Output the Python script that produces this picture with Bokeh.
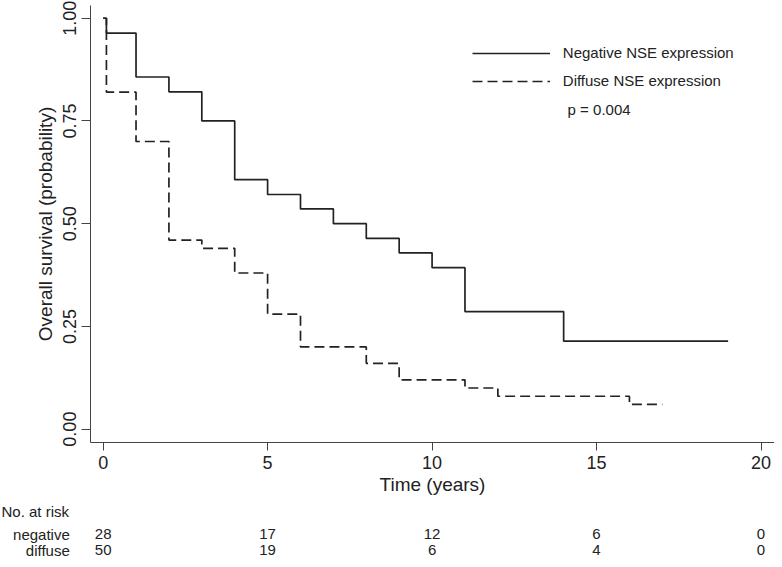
from bokeh.plotting import figure
from bokeh.layouts import column
from bokeh.models import (Range1d, FixedTicker, PrintfTickFormatter, Legend, LegendItem,
                          Label, ColumnDataSource)
from bokeh.core.properties import value
from bokeh.embed import file_html
from bokeh.resources import INLINE

# ---- data ----
neg_time = [0, 0.1, 1, 2, 3, 4, 5, 6, 7, 8, 9, 10, 11, 14, 19]
neg_surv = [1.0, 0.964, 0.857, 0.821, 0.75, 0.607, 0.571, 0.536, 0.50, 0.464, 0.429, 0.393, 0.286, 0.214, 0.214]
dif_time = [0, 0.1, 1, 2, 3, 4, 5, 6, 8, 9, 11, 12, 16, 17]
dif_surv = [1.0, 0.82, 0.70, 0.46, 0.44, 0.38, 0.28, 0.20, 0.16, 0.12, 0.10, 0.08, 0.06, 0.06]
risk_time = [0, 5, 10, 15, 20]
risk_neg = [28, 17, 12, 6, 0]
risk_dif = [50, 19, 6, 4, 0]
x_ticks = [0, 5, 10, 15, 20]
y_ticks = [0.0, 0.25, 0.5, 0.75, 1.0]
series_names = ["Negative NSE expression", "Diffuse NSE expression"]
row_names = ["negative", "diffuse"]
risk_title = "No. at risk"
p_text = "p = 0.004"

FONT = "Liberation Sans"
INK = "#222222"
AX = "#444444"
W = 774
X0, X1 = -0.384, 20.41

# ---- main survival plot ----
p = figure(width=W, height=500, output_backend="svg", toolbar_location=None,
           x_range=Range1d(X0, X1), y_range=Range1d(-0.0326, 1.031),
           min_border_left=90, min_border_right=0, min_border_top=5, min_border_bottom=58)
p.frame_align = False
p.outline_line_color = None
p.grid.visible = False
p.background_fill_color = "white"
p.border_fill_color = "white"

r_neg = p.step(neg_time, neg_surv, mode="after", line_color=INK, line_width=1.7)
r_dif = p.step(dif_time, dif_surv, mode="after", line_color=INK, line_width=1.7, line_dash="10 5")

for ax in (p.xaxis[0], p.yaxis[0]):
    ax.axis_line_color = AX
    ax.major_tick_line_color = AX
    ax.minor_tick_line_color = None
    ax.major_tick_in = 0
    ax.major_label_text_font = FONT
    ax.major_label_text_font_size = "18px"
    ax.major_label_text_color = INK
    ax.axis_label_text_font = FONT
    ax.axis_label_text_font_size = "19px"
    ax.axis_label_text_font_style = "normal"
    ax.axis_label_text_color = INK

p.xaxis.ticker = FixedTicker(ticks=x_ticks)
p.xaxis.major_tick_out = 8
p.xaxis.major_label_standoff = 5
p.xaxis.axis_label = "Time (years)"
p.xaxis.axis_label_standoff = 2

p.yaxis.ticker = FixedTicker(ticks=y_ticks)
p.yaxis.formatter = PrintfTickFormatter(format="%.2f")
p.yaxis.major_tick_out = 9
p.yaxis.major_label_standoff = 5
p.yaxis.major_label_orientation = "vertical"
p.yaxis.axis_label = "Overall survival (probability)"
p.yaxis.axis_label_standoff = 5

legend = Legend(items=[LegendItem(label=series_names[0], renderers=[r_neg]),
                       LegendItem(label=series_names[1], renderers=[r_dif])],
                location=(381.8, 351.5), orientation="vertical",
                glyph_width=78, glyph_height=20, label_height=20, label_standoff=13,
                spacing=8, padding=0, margin=0, border_line_color=None,
                background_fill_alpha=0,
                label_text_font=FONT, label_text_font_size="15px", label_text_color=INK)
p.add_layout(legend, "center")

p.add_layout(Label(x=14.12, y=0.779, text=p_text, text_font=FONT, text_font_size="15px",
                   text_color=INK, text_baseline="middle", text_align="left"))

# ---- number-at-risk table (same x scale, frame spanning the full width) ----
TH = 59
px_per_year = (W - 90) / (X1 - X0)
T0 = X0 - 90 / px_per_year
t = figure(width=W, height=TH, output_backend="svg", toolbar_location=None,
           x_range=Range1d(T0, X1), y_range=Range1d(TH, 0),
           x_axis_type=None, y_axis_type=None,
           min_border_left=0, min_border_right=0, min_border_top=0, min_border_bottom=0)
t.frame_align = False
t.outline_line_color = None
t.grid.visible = False
t.background_fill_color = "white"
t.border_fill_color = "white"

title_y = 11
row_y = [33.5, 49.5]
t.text(x=[T0 + 1 / px_per_year], y=[title_y], text=[risk_title], text_font=value(FONT),
       text_font_size="15px", text_color=INK, text_baseline="middle", text_align="left")
t.text(x=[-1.014, -1.014], y=row_y, text=row_names, text_font=value(FONT), text_font_size="15px",
       text_color=INK, text_baseline="middle", text_align="right")
src = ColumnDataSource(dict(
    x=risk_time + risk_time,
    y=[row_y[0]] * len(risk_time) + [row_y[1]] * len(risk_time),
    txt=[str(v) for v in risk_neg] + [str(v) for v in risk_dif]))
t.text(x="x", y="y", text="txt", source=src, text_font=value(FONT), text_font_size="15px",
       text_color=INK, text_baseline="middle", text_align="center")

layout = column(p, t, spacing=0)
open("out.html", "w").write(file_html(layout, INLINE))
